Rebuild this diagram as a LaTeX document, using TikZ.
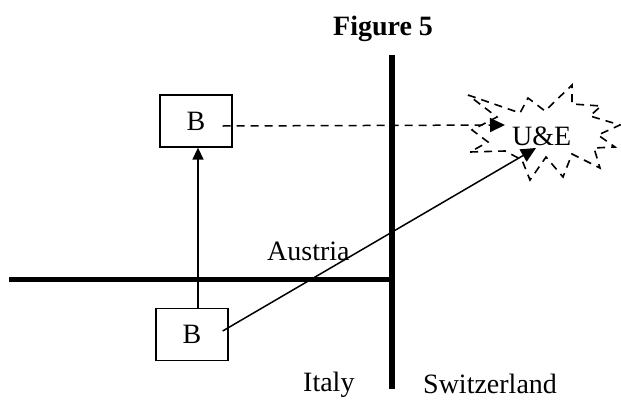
\documentclass[tikz,border=0pt]{standalone}
\usepackage{fontspec}
\setmainfont{Liberation Serif}
\usetikzlibrary{arrows.meta}
\begin{document}
\begin{tikzpicture}[x=1pt,y=-1pt,
  thinline/.style={line width=1.5pt},
  border/.style={line width=5.5pt},
  boxnode/.style={draw,line width=1.3pt,minimum width=72pt,minimum height=52pt,inner sep=0pt,font=\fontsize{28}{32}\selectfont},
  lbl/.style={font=\fontsize{28}{32}\selectfont,inner sep=0pt,anchor=base west},
  tip/.style={-{Triangle[length=12pt,width=11pt]}},
  bigtip/.style={-{Triangle[length=15pt,width=14pt]}},
  dashline/.style={dash pattern=on 8pt off 6pt}]
\useasboundingbox (0,0) rectangle (621,399);
% texts
\node[lbl] (fig) at (333,35) {\bfseries Figure 5};
\node[lbl] (austria) at (267,260) {Austria};
\node[lbl] (italy) at (303,391) {Italy};
\node[lbl] (swiss) at (423,393.5) {Switzerland};
\node[lbl] (ue) at (512,145) {U\&E};
% boxes
\node[boxnode] (top) at (196,121) {B};
\node[boxnode] (bot) at (192,334.5) {B};
% borders
\coordinate (swN) at (392,55);
\coordinate (swS) at (392,389);
\coordinate (itW) at (9,279.5);
\coordinate (itE) at (392,279.5);
\draw[border] (swN) -- (swS);
\draw[border] (itW) -- (itE);
% burst
\draw[dashline,line width=1.6pt] (468,95) -- (520,113) -- (528,98) -- (545,111) -- (572,85) -- (572,104) -- (601,106) -- (590,116) -- (620,125) -- (598,135) -- (615,147) -- (594,148) -- (600,168) -- (572,154) -- (563,177) -- (546,157) -- (530,180) -- (522,160) -- (505,151) -- (470,152) -- (488,142) -- (472,130) -- (497,117) -- cycle;
% connectors
\coordinate (ueA) at (536,148);
\coordinate (ueB) at (505,125);
\draw[thinline,tip] ([xshift=6pt]bot.north) -- ([xshift=2pt]top.south);
\draw[thinline,bigtip] ([shift={(-6,-3.5)}]bot.east) -- (ueA);
\draw[thinline,bigtip,dashline] ([shift={(-10,5)}]top.east) -- (ueB);
\end{tikzpicture}
\end{document}
